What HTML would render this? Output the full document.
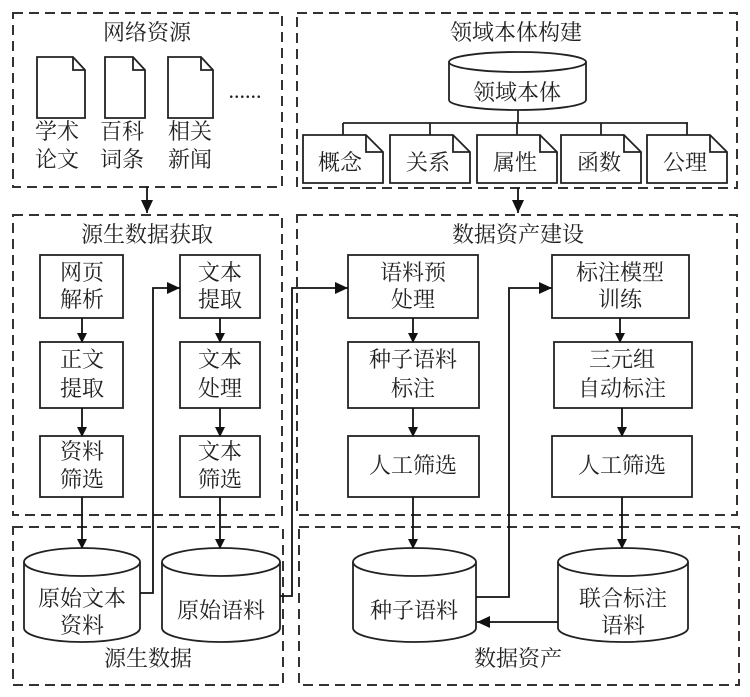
<!DOCTYPE html>
<html><head><meta charset="utf-8"><style>
html,body{margin:0;padding:0;background:#fff}
svg{display:block}
text{font-family:"Liberation Serif","Noto Serif CJK SC",serif;font-size:22px;fill:#222;text-anchor:middle}
</style></head><body>
<svg width="750" height="697" viewBox="0 0 750 697" xmlns="http://www.w3.org/2000/svg">
<defs>
<marker id="a" markerWidth="10" markerHeight="10" refX="9" refY="5" orient="auto" markerUnits="userSpaceOnUse">
<path d="M0,0 L10,5 L0,10 z" fill="#111"/></marker>
<marker id="b" markerWidth="14" markerHeight="14" refX="13" refY="6" orient="auto" markerUnits="userSpaceOnUse">
<path d="M0,0 L13,6 L0,12 z" fill="#111"/></marker>
</defs>
<g fill="none" stroke="#333" stroke-width="2" stroke-dasharray="10,6">
<rect x="13" y="13" width="269" height="174"/>
<rect x="297" y="13" width="440" height="175"/>
<rect x="13" y="215" width="269" height="300"/>
<rect x="297" y="215" width="440" height="300"/>
<rect x="13" y="527" width="270" height="158"/>
<rect x="299" y="527" width="440" height="158"/>
</g>
<g fill="#fff" stroke="#222" stroke-width="1.8">
<!-- web docs -->
<path d="M37,57 H73 L85,70 V118 H37 Z M73,57 V70 H85"/>
<path d="M105,57 H133 L145,70 V118 H105 Z M133,57 V70 H145"/>
<path d="M168,57 H201 L213,70 V118 H168 Z M201,57 V70 H213"/>
<!-- ontology cylinder -->
<path d="M449,62 V100 A68.5,10 0 0 0 586,100 V62"/>
<ellipse cx="517.5" cy="62" rx="68.5" ry="10"/>
<!-- bus -->
<path d="M518,110 V123 M343,123 H688 M343,123 V135 M430,123 V135 M517,123 V135 M601,123 V135 M687,123 V135" fill="none"/>
<!-- ontology docs -->
<path d="M303,135 H366 L383,152 V183 H303 Z M366,135 V152 H383"/>
<path d="M390,135 H453 L470,152 V183 H390 Z M453,135 V152 H470"/>
<path d="M477,135 H540 L557,152 V183 H477 Z M540,135 V152 H557"/>
<path d="M561,135 H624 L641,152 V183 H561 Z M624,135 V152 H641"/>
<path d="M647,135 H710 L727,152 V183 H647 Z M710,135 V152 H727"/>
<!-- process boxes -->
<rect x="40" y="255" width="83" height="63"/>
<rect x="40" y="342" width="83" height="66"/>
<rect x="40" y="436" width="83" height="61"/>
<rect x="180" y="255" width="80" height="63"/>
<rect x="180" y="342" width="80" height="66"/>
<rect x="180" y="436" width="80" height="61"/>
<rect x="348" y="255" width="130" height="63"/>
<rect x="348" y="342" width="131" height="66"/>
<rect x="348" y="436" width="131" height="61"/>
<rect x="552" y="255" width="137" height="63"/>
<rect x="554" y="342" width="138" height="66"/>
<rect x="552" y="436" width="140" height="61"/>
<!-- cylinders -->
<path d="M24,562 V628 A58,14 0 0 0 140,628 V562"/><ellipse cx="82" cy="562" rx="58" ry="14"/>
<path d="M162,562 V628 A59,14 0 0 0 280,628 V562"/><ellipse cx="221" cy="562" rx="59" ry="14"/>
<path d="M353,562 V628 A61.5,14 0 0 0 476,628 V562"/><ellipse cx="414.5" cy="562" rx="61.5" ry="14"/>
<path d="M558,562 V628 A65,14 0 0 0 688,628 V562"/><ellipse cx="623" cy="562" rx="65" ry="14"/>
</g>
<g fill="none" stroke="#111" stroke-width="1.8">
<path d="M147,187 V213" marker-end="url(#b)"/>
<path d="M518,188 V213" marker-end="url(#b)"/>
<path d="M82,318 V342" marker-end="url(#a)"/>
<path d="M82,408 V436" marker-end="url(#a)"/>
<path d="M82,497 V548" marker-end="url(#a)"/>
<path d="M220,318 V342" marker-end="url(#a)"/>
<path d="M220,408 V436" marker-end="url(#a)"/>
<path d="M220,497 V548" marker-end="url(#a)"/>
<path d="M413,318 V342" marker-end="url(#a)"/>
<path d="M413,408 V436" marker-end="url(#a)"/>
<path d="M413,497 V548" marker-end="url(#a)"/>
<path d="M620,318 V342" marker-end="url(#a)"/>
<path d="M622,408 V436" marker-end="url(#a)"/>
<path d="M622,497 V548" marker-end="url(#a)"/>
<path d="M140,593 H153 V288 H180" marker-end="url(#b)"/>
<path d="M280,596 H292 V288 H348" marker-end="url(#b)"/>
<path d="M476,597 H509 V288 H552" marker-end="url(#b)"/>
<path d="M558,622 H477" marker-end="url(#b)"/>
</g>
<g>
<text x="147" y="40">网络资源</text>
<text x="57" y="139">学术</text><text x="57" y="167">论文</text>
<text x="122" y="139">百科</text><text x="122" y="167">词条</text>
<text x="190" y="139">相关</text><text x="190" y="167">新闻</text>
<text x="245" y="98">......</text>
<text x="516" y="40">领域本体构建</text>
<text x="517" y="100">领域本体</text>
<text x="340" y="170">概念</text><text x="428" y="170">关系</text><text x="515" y="170">属性</text><text x="599" y="170">函数</text><text x="685" y="170">公理</text>
<text x="147" y="242">源生数据获取</text>
<text x="518" y="242">数据资产建设</text>
<text x="82" y="280">网页</text><text x="82" y="307">解析</text>
<text x="82" y="367">正文</text><text x="82" y="396">提取</text>
<text x="82" y="459">资料</text><text x="82" y="487">筛选</text>
<text x="220" y="280">文本</text><text x="220" y="307">提取</text>
<text x="220" y="367">文本</text><text x="220" y="396">处理</text>
<text x="220" y="459">文本</text><text x="220" y="487">筛选</text>
<text x="413" y="280">语料预</text><text x="413" y="307">处理</text>
<text x="413" y="367">种子语料</text><text x="413" y="396">标注</text>
<text x="413" y="473">人工筛选</text>
<text x="620" y="280">标注模型</text><text x="620" y="307">训练</text>
<text x="622" y="367">三元组</text><text x="622" y="396">自动标注</text>
<text x="622" y="473">人工筛选</text>
<text x="82" y="606">原始文本</text><text x="82" y="633">资料</text>
<text x="221" y="618">原始语料</text>
<text x="414" y="618">种子语料</text>
<text x="623" y="606">联合标注</text><text x="623" y="633">语料</text>
<text x="148" y="666">源生数据</text>
<text x="518" y="666">数据资产</text>
</g>
</svg>
</body></html>
